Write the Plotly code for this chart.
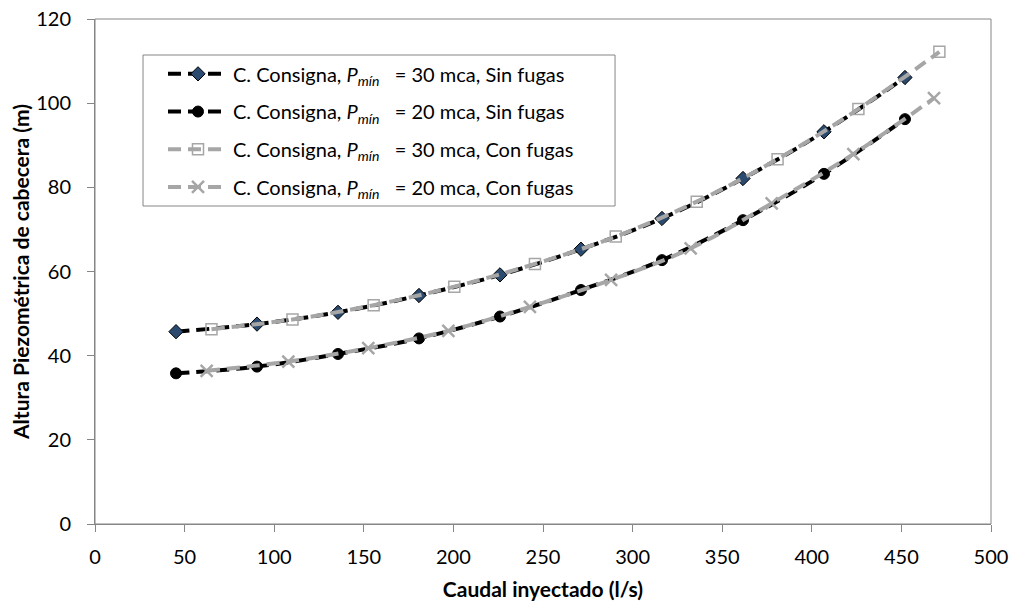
import plotly.graph_objects as go

# Caudal inyectado (l/s) y altura piezométrica de cabecera (m) por escenario
caudal_30_sin = [45.2, 90.4, 135.6, 180.8, 226.0, 271.2, 316.4, 361.6, 406.8, 452.0]
altura_30_sin = [45.7, 47.5, 50.3, 54.3, 59.2, 65.3, 72.6, 82.1, 93.2, 106.1]

caudal_20_sin = [45.2, 90.4, 135.6, 180.8, 226.0, 271.2, 316.4, 361.6, 406.8, 452.0]
altura_20_sin = [35.8, 37.4, 40.4, 44.1, 49.3, 55.6, 62.7, 72.2, 83.2, 96.2]

caudal_30_con = [65.0, 110.2, 155.5, 200.5, 245.5, 290.6, 335.8, 380.9, 426.0, 471.2]
altura_30_con = [46.3, 48.6, 52.0, 56.4, 61.8, 68.3, 76.6, 86.7, 98.6, 112.2]

caudal_20_con = [62.3, 107.9, 152.5, 197.2, 242.7, 288.0, 332.4, 377.6, 423.2, 468.2]
altura_20_con = [36.4, 38.6, 41.8, 45.9, 51.6, 58.0, 65.5, 76.2, 87.9, 101.2]

x_ticks = [0, 50, 100, 150, 200, 250, 300, 350, 400, 450, 500]
y_ticks = [0, 20, 40, 60, 80, 100, 120]

NB = "\u00a0"


def etiqueta(p, fugas):
    return f"C. Consigna, <i>P</i><sub><i>mín</i></sub>{NB}{NB}{NB}= {p} mca, {fugas}"


FONT = "Lato, 'Open Sans', sans-serif"
DASH = "13px,7px"
GRIS = "#A6A6A6"
EJE = "#868686"

fig = go.Figure()

fig.add_trace(go.Scatter(
    x=caudal_30_sin, y=altura_30_sin, mode="lines+markers",
    name=etiqueta(30, "Sin fugas"), legendgroup="a",
    line=dict(color="black", width=4, dash=DASH, shape="spline"),
    marker=dict(symbol="diamond", size=11, color="#2B4A6F",
                line=dict(color="black", width=1)),
))
fig.add_trace(go.Scatter(
    x=caudal_20_sin, y=altura_20_sin, mode="lines+markers",
    name=etiqueta(20, "Sin fugas"), legendgroup="b",
    line=dict(color="black", width=4, dash=DASH, shape="spline"),
    marker=dict(symbol="circle", size=11, color="black",
                line=dict(color="black", width=1)),
))
fig.add_trace(go.Scatter(
    x=caudal_30_con, y=altura_30_con, mode="lines+markers",
    name=etiqueta(30, "Con fugas"), legendgroup="c",
    line=dict(color=GRIS, width=4, dash=DASH, shape="spline"),
    marker=dict(symbol="square-open", size=11, color=GRIS,
                line=dict(color=GRIS, width=1.5)),
))
fig.add_trace(go.Scatter(
    x=caudal_20_con, y=altura_20_con, mode="lines+markers",
    name=etiqueta(20, "Con fugas"), legendgroup="d",
    line=dict(color=GRIS, width=4, dash=DASH, shape="spline"),
    marker=dict(symbol="x-thin-open", size=12, color=GRIS,
                line=dict(color=GRIS, width=2.5)),
))

axis_common = dict(
    showgrid=False, zeroline=False, showline=True, linecolor=EJE,
    linewidth=1, ticks="outside", ticklen=7, tickcolor=EJE,
    tickfont=dict(family=FONT, size=20, color="black"),
    automargin=False,
)

fig.update_layout(
    width=1013, height=602,
    margin=dict(l=95, r=22, t=19, b=78),
    paper_bgcolor="white", plot_bgcolor="white",
    font=dict(family=FONT, size=20, color="black"),
    showlegend=True,
    legend=dict(
        x=0.0759, y=0.930, xanchor="left", yanchor="top",
        bgcolor="rgba(0,0,0,0)", borderwidth=0,
        font=dict(family=FONT, size=20, color="black"),
        tracegroupgap=8.7, itemwidth=60,
    ),
    xaxis=dict(
        range=[0, 500], tickvals=x_ticks, ticklabelstandoff=8,
        title=dict(text="<b>Caudal inyectado (l/s)</b>",
                   font=dict(family=FONT, size=21), standoff=15),
        **axis_common,
    ),
    yaxis=dict(
        range=[0, 120], tickvals=y_ticks, ticklabelstandoff=12,
        title=dict(text="<b>Altura Piezométrica de cabecera (m)</b>",
                   font=dict(family=FONT, size=21), standoff=0),
        **axis_common,
    ),
)

# marco del área de trazado
fig.add_shape(type="rect", xref="paper", yref="paper", x0=0, y0=0, x1=1, y1=1,
              line=dict(color=EJE, width=1), layer="below")
# recuadro de la leyenda
fig.add_shape(type="rect", xref="paper", yref="paper",
              x0=0.0536, x1=0.5804, y0=0.6297, y1=0.9287,
              line=dict(color=EJE, width=1), fillcolor="white", layer="below")

fig.write_html("out.html")
